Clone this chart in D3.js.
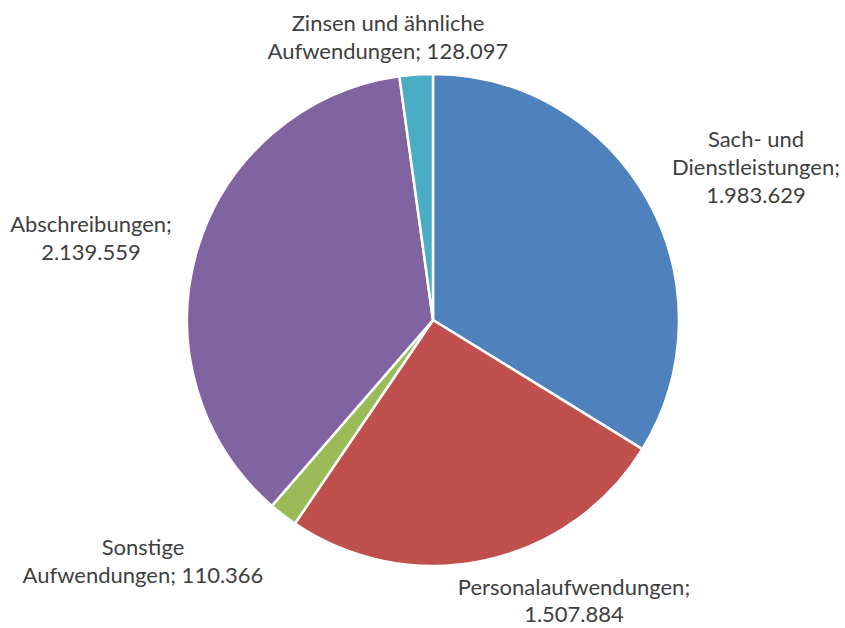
<!DOCTYPE html>
<html><head><meta charset="utf-8">
<script src="https://cdn.jsdelivr.net/npm/d3@7/dist/d3.min.js"></script>
<style>html,body{margin:0;padding:0;background:#fff;}svg{display:block;}</style>
</head><body>
<svg id="chart" width="845" height="628"></svg>
<script>
const categories = ["Sach- und Dienstleistungen", "Personalaufwendungen", "Sonstige Aufwendungen", "Abschreibungen", "Zinsen und ähnliche Aufwendungen"];
const values = [1983629, 1507884, 110366, 2139559, 128097];
const valueLabels = ["1.983.629", "1.507.884", "110.366", "2.139.559", "128.097"];
const colors = ["#4F81BD", "#C0504D", "#9BBB59", "#8064A2", "#4BACC6"];
// label lines (text wrapping as in the original)
const labelLines = [
  ["Sach- und", "Dienstleistungen;", "1.983.629"],
  ["Personalaufwendungen;", "1.507.884"],
  ["Sonstige", "Aufwendungen; 110.366"],
  ["Abschreibungen;", "2.139.559"],
  ["Zinsen und ähnliche", "Aufwendungen; 128.097"]
];
// label anchors: center x, first baseline y
const labelPos = [[756, 147], [574, 595], [143, 555], [91, 232], [388, 31]];

const svg = d3.select("#chart");
const cx = 433, cy = 320, R = 246;
const g = svg.append("g").attr("transform", `translate(${cx},${cy})`);
const pie = d3.pie().sort(null).value(d => d)(values);
const arc = d3.arc().innerRadius(0).outerRadius(R);
g.selectAll("path").data(pie).join("path")
  .attr("d", arc)
  .attr("fill", (d, i) => colors[i])
  .attr("stroke", "#fff").attr("stroke-width", 2.5).attr("stroke-linejoin", "round");

const lh = 28;
labelLines.forEach((lines, i) => {
  const t = svg.append("text")
    .attr("text-anchor", "middle")
    .attr("font-family", "Lato, 'Open Sans', sans-serif")
    .attr("font-size", 22)
    .attr("fill", "#404040");
  lines.forEach((ln, j) => {
    t.append("tspan").attr("x", labelPos[i][0]).attr("y", labelPos[i][1] + j * (i === 1 ? 27 : lh)).text(ln);
  });
});
</script>
</body></html>
